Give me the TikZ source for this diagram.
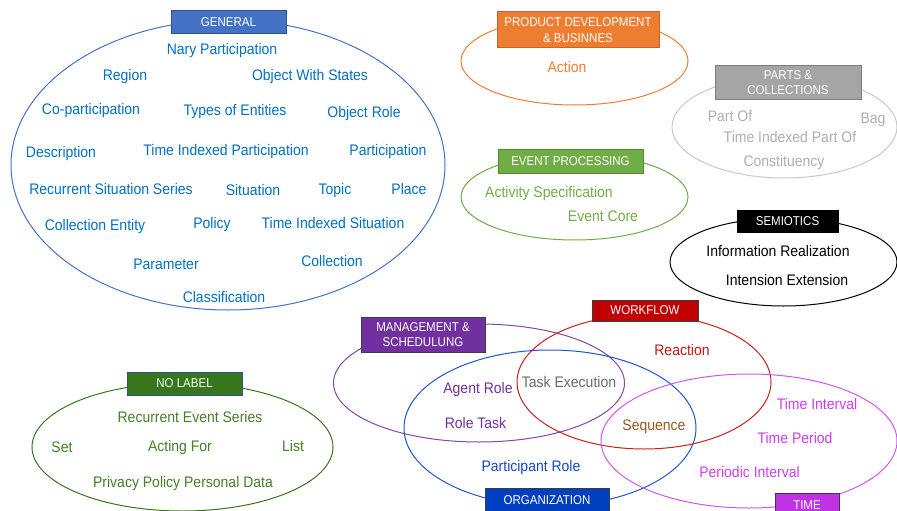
\documentclass[tikz,border=0pt]{standalone}
\usepackage{fontspec}
\setmainfont{Liberation Sans}
% slightly condensed faces for the set labels and the headers
\newfontfamily\itemface[FakeStretch=0.915]{Liberation Sans}
\newfontfamily\hdrface[FakeStretch=0.9]{Liberation Sans}
\usetikzlibrary{shapes.geometric}

% category colours
\definecolor{genBlue}{RGB}{68,114,196}
\definecolor{genBorder}{RGB}{47,82,143}
\definecolor{genText}{RGB}{0,112,192}
\definecolor{prodOrange}{RGB}{237,125,49}
\definecolor{prodBorder}{RGB}{200,100,40}
\definecolor{partsGray}{RGB}{165,165,165}
\definecolor{partsBorder}{RGB}{125,125,125}
\definecolor{partsLine}{RGB}{200,200,200}
\definecolor{partsText}{RGB}{175,175,175}
\definecolor{evGreen}{RGB}{112,173,71}
\definecolor{evBorder}{RGB}{84,140,52}
\definecolor{wfRed}{RGB}{192,0,0}
\definecolor{wfLine}{RGB}{205,30,30}
\definecolor{wfText}{RGB}{200,20,20}
\definecolor{mgPurple}{RGB}{112,48,160}
\definecolor{mgLine}{RGB}{130,70,175}
\definecolor{orgBlue}{RGB}{0,64,192}
\definecolor{orgLine}{RGB}{30,85,210}
\definecolor{orgText}{RGB}{20,70,200}
\definecolor{tmFill}{RGB}{192,50,230}
\definecolor{tmLine}{RGB}{210,85,240}
\definecolor{tmText}{RGB}{205,60,235}
\definecolor{nlGreen}{RGB}{56,118,29}
\definecolor{nlText}{RGB}{68,128,38}
\definecolor{taskGray}{RGB}{105,105,105}
\definecolor{seqBrown}{RGB}{155,85,30}
\definecolor{hdrDark}{RGB}{60,60,60}

\begin{document}
\begin{tikzpicture}[x=1pt,y=-1pt,
  setshape/.style={ellipse, draw, line width=1pt, inner sep=0pt},
  hdr/.style={rectangle, draw, line width=1pt, text=white, inner sep=0pt,
    align=center, font=\hdrface\fontsize{12.8}{15.5}\selectfont},
  item/.style={font=\itemface\fontsize{15.3}{17}\selectfont, inner sep=0pt,
    text height=12pt, text depth=1pt}]
\useasboundingbox (0,0) rectangle (897,511);
\clip (0,0) rectangle (897,511);

% ---------- set outlines ----------
\node[setshape, draw=genBlue, minimum width=434pt, minimum height=290pt] (genSet) at (228,165) {};
\node[setshape, draw=prodOrange, minimum width=227pt, minimum height=88pt] (prodSet) at (574.5,61) {};
\node[setshape, draw=partsLine, minimum width=225pt, minimum height=102pt] (partsSet) at (784.5,127) {};
\node[setshape, draw=evGreen, minimum width=227pt, minimum height=86pt] (evSet) at (574.5,197) {};
\node[setshape, draw=black, minimum width=227pt, minimum height=88pt] (semSet) at (783.5,262) {};
\node[setshape, draw=mgLine, minimum width=291pt, minimum height=118pt] (mgSet) at (479,383) {};
\node[setshape, draw=orgLine, minimum width=292pt, minimum height=156pt] (orgSet) at (550,428) {};
\node[setshape, draw=wfLine, minimum width=254pt, minimum height=134pt] (wfSet) at (644,382) {};
\node[setshape, draw=tmLine, minimum width=296pt, minimum height=134pt] (tmSet) at (749,441) {};
\node[setshape, draw=nlGreen, minimum width=301pt, minimum height=128pt] (nlSet) at (182.5,447) {};

% ---------- headers ----------
\node[hdr, fill=genBlue, draw=genBorder, minimum width=115pt, minimum height=23pt] (genHdr) at (228.5,22.5) {GENERAL};
\node[hdr, fill=prodOrange, draw=prodBorder, minimum width=162pt, minimum height=36pt] (prodHdr) at (578,30) {PRODUCT DEVELOPMENT\\\& BUSINNES};
\node[hdr, fill=partsGray, draw=partsBorder, minimum width=146pt, minimum height=33pt] (partsHdr) at (788,82.5) {PARTS \&\\COLLECTIONS};
\node[hdr, fill=evGreen, draw=evBorder, minimum width=145pt, minimum height=24pt] (evHdr) at (570.5,161) {EVENT PROCESSING};
\node[hdr, fill=black, draw=black, minimum width=101pt, minimum height=22pt] (semHdr) at (787.5,221) {SEMIOTICS};
\node[hdr, fill=wfRed, draw=hdrDark, minimum width=106pt, minimum height=21pt] (wfHdr) at (645,310.5) {WORKFLOW};
\node[hdr, fill=mgPurple, draw=hdrDark, minimum width=124pt, minimum height=35pt] (mgHdr) at (423,334.5) {MANAGEMENT \&\\SCHEDULUNG};
\node[hdr, fill=orgBlue, draw=hdrDark, minimum width=124pt, minimum height=25pt] (orgHdr) at (547,500.5) {ORGANIZATION};
\node[hdr, fill=tmFill, draw=hdrDark, minimum width=64pt, minimum height=24pt] (tmHdr) at (807,505) {TIME};
\node[hdr, fill=nlGreen, draw=genBorder, minimum width=115pt, minimum height=23pt] (nlHdr) at (184.5,383.5) {NO LABEL};

% ---------- GENERAL ----------
\begin{scope}[every node/.append style={item, text=genText}]
\node (naryPart) at (222,49) {Nary Participation};
\node (region) at (125,75) {Region};
\node (objStates) at (310,75) {Object With States};
\node (coPart) at (91,109) {Co-participation};
\node (typesEnt) at (235,110) {Types of Entities};
\node (objRole) at (364,112) {Object Role};
\node (descr) at (61,152) {Description};
\node (tiPart) at (226,150) {Time Indexed Participation};
\node (partic) at (388,150) {Participation};
\node (recSit) at (111,189) {Recurrent Situation Series};
\node (situation) at (253,190) {Situation};
\node (topic) at (335,189) {Topic};
\node (place) at (409,189) {Place};
\node (collEnt) at (95,225) {Collection Entity};
\node (policy) at (212,223) {Policy};
\node (tiSit) at (333,223) {Time Indexed Situation};
\node (param) at (166,264) {Parameter};
\node (collection) at (332,261) {Collection};
\node (classif) at (224,297) {Classification};
\end{scope}

% ---------- PRODUCT DEVELOPMENT ----------
\node[item, text=prodOrange] (action) at (567,67) {Action};

% ---------- PARTS & COLLECTIONS ----------
\begin{scope}[every node/.append style={item, text=partsText}]
\node (partOf) at (730,116) {Part Of};
\node (bag) at (873,118) {Bag};
\node (tiPartOf) at (790,137) {Time Indexed Part Of};
\node (constit) at (784,161) {Constituency};
\end{scope}

% ---------- EVENT PROCESSING ----------
\node[item, text=evGreen] (actSpec) at (549,192) {Activity Specification};
\node[item, text=evGreen] (evCore) at (603,216) {Event Core};

% ---------- SEMIOTICS ----------
\node[item, text=black] (infoReal) at (778,251) {Information Realization};
\node[item, text=black] (intExt) at (787,280) {Intension Extension};

% ---------- WORKFLOW / MANAGEMENT / ORGANIZATION ----------
\node[item, text=wfText] (reaction) at (682,350) {Reaction};
\node[item, text=mgPurple] (agentRole) at (478,388) {Agent Role};
\node[item, text=mgPurple] (roleTask) at (475.5,423) {Role Task};
\node[item, text=taskGray] (taskExec) at (569,382) {Task Execution};
\node[item, text=seqBrown] (sequence) at (654,425) {Sequence};
\node[item, text=orgText] (partRole) at (531,466) {Participant Role};

% ---------- TIME ----------
\node[item, text=tmText] (tInterval) at (817,404) {Time Interval};
\node[item, text=tmText] (tPeriod) at (795,438) {Time Period};
\node[item, text=tmText] (perInterval) at (749.5,472) {Periodic Interval};

% ---------- NO LABEL ----------
\begin{scope}[every node/.append style={item, text=nlText}]
\node (recEvent) at (190,417) {Recurrent Event Series};
\node (set) at (62,447) {Set};
\node (actingFor) at (180,446) {Acting For};
\node (list) at (293,446) {List};
\node (privacy) at (183,482) {Privacy Policy Personal Data};
\end{scope}
\end{tikzpicture}
\end{document}
